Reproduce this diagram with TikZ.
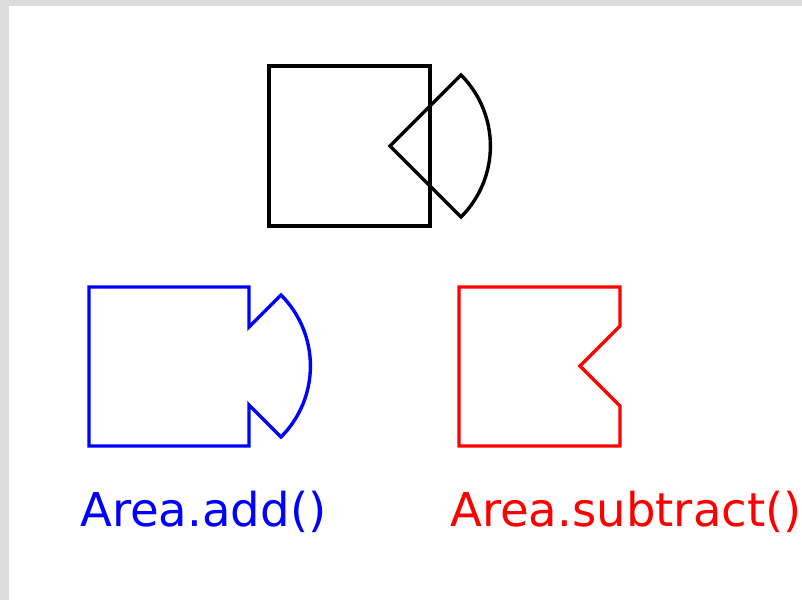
\documentclass[tikz,border=0pt]{standalone}
\usepackage{fontspec}
\setmainfont{DejaVu Sans}
\definecolor{framegray}{RGB}{220,220,220}
\begin{document}
\begin{tikzpicture}[x=1pt,y=-1pt,
  outline/.style={line width=3.4pt,line join=miter},
  caption/.style={anchor=base west,inner sep=0pt,font=\fontsize{46.6}{52}\selectfont}]
% canvas with a grey frame on the left and top
\fill[framegray] (0,0) rectangle (802,600);
\fill[white] (9,6) rectangle (802,600);
\useasboundingbox (0,0) rectangle (802,600);

% the two source shapes: square and pie wedge
\draw[outline,black] (269,66) rectangle (430,226);
\draw[outline,black] (390,146) -- (461,75) arc[start angle=-45,end angle=45,radius=100.4] -- cycle;

% union of square and wedge
\draw[outline,blue] (89,287) -- (249,287) -- (249,327) -- (281,295)
  arc[start angle=-45,end angle=45,radius=100.4]
  -- (249,405) -- (249,446) -- (89,446) -- cycle;

% square minus wedge
\draw[outline,red] (459,287) -- (620,287) -- (620,326) -- (580,366)
  -- (620,406) -- (620,446) -- (459,446) -- cycle;

% captions
\node[caption,text=blue] (addlabel) at (80,526) {Area.add()};
\node[caption,text=red] (sublabel) at (450,526) {Area.subtract()};
\end{tikzpicture}
\end{document}
